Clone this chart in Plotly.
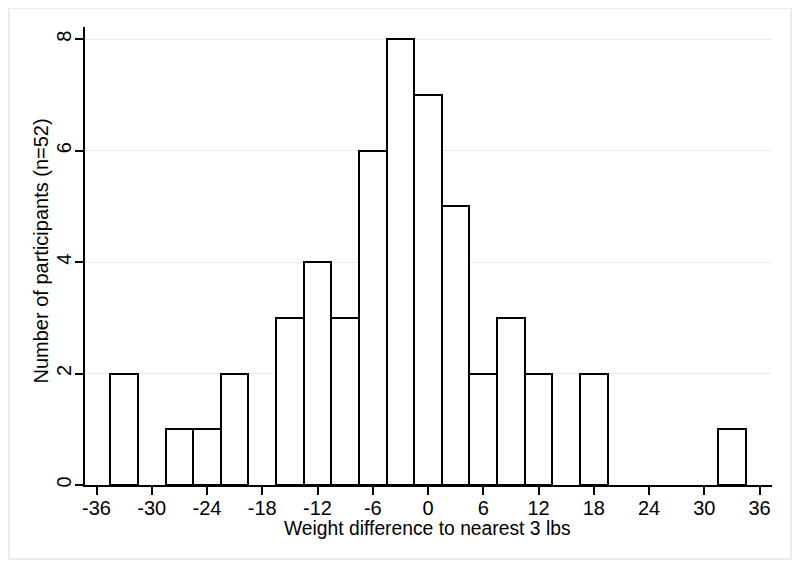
import plotly.graph_objects as go

# weight difference bins (centre, lbs) and number of participants in each
bin_centers = [-33, -27, -24, -21, -15, -12, -9, -6, -3, 0, 3, 6, 9, 12, 18, 33]
counts = [2, 1, 1, 2, 3, 4, 3, 6, 8, 7, 5, 2, 3, 2, 2, 1]
x_ticks = [-36, -30, -24, -18, -12, -6, 0, 6, 12, 18, 24, 30, 36]
y_ticks = [0, 2, 4, 6, 8]
bin_width = 3

# page has an 8px body margin, so the figure is a bit smaller than the window
W, H = 792, 560
left, right, top, bottom = 77, 28, 19, 83
pw = W - left - right
ph = H - top - bottom

fig = go.Figure()
fig.add_trace(go.Bar(x=bin_centers, y=counts, width=bin_width,
                     marker=dict(color='white', line=dict(color='black', width=2))))

font = dict(family='Liberation Sans, Arial, sans-serif', size=20, color='black')

fig.update_layout(
    width=W, height=H,
    margin=dict(l=left, r=right, t=top, b=bottom),
    paper_bgcolor='white', plot_bgcolor='white',
    showlegend=False, bargap=0,
    font=font,
    xaxis=dict(range=[-37.25, 37.35], tickvals=x_ticks, ticktext=[str(v) for v in x_ticks],
               showgrid=False, zeroline=False, automargin=False, ticklabelstandoff=-4,
               showline=True, linecolor='black', linewidth=1.5,
               ticks='outside', ticklen=8, tickcolor='black', tickwidth=1.5),
    yaxis=dict(range=[0, 8.22], tickvals=y_ticks, ticktext=[str(v) for v in y_ticks], tickangle=-90,
               showgrid=True, gridcolor='#e4edef', gridwidth=1, zeroline=False, automargin=False,
               ticklabelstandoff=-4,
               showline=True, linecolor='black', linewidth=1.5,
               ticks='outside', ticklen=8, tickcolor='black', tickwidth=1.5),
)

# axis titles placed as annotations to match the original spacing
fig.add_annotation(text='Weight difference to nearest 3 lbs', xref='paper', yref='paper',
                   x=(419.5 - left) / pw, y=(H - bottom - 520) / ph,
                   xanchor='center', yanchor='middle', showarrow=False, font=dict(size=19.3))
fig.add_annotation(text='Number of participants (n=52)', xref='paper', yref='paper',
                   x=(32 - left) / pw, y=(H - bottom - 243.5) / ph, textangle=-90,
                   xanchor='center', yanchor='middle', showarrow=False, font=dict(size=20))

# faint outer frame like the original graph region
fig.add_shape(type='rect', xref='paper', yref='paper',
              x0=(1 - left) / pw, x1=(783 - left) / pw,
              y0=(H - bottom - 551) / ph, y1=(H - bottom + 0) / ph,
              line=dict(color='#e4e8ea', width=1.5), layer='below')

fig.write_html("out.html")
